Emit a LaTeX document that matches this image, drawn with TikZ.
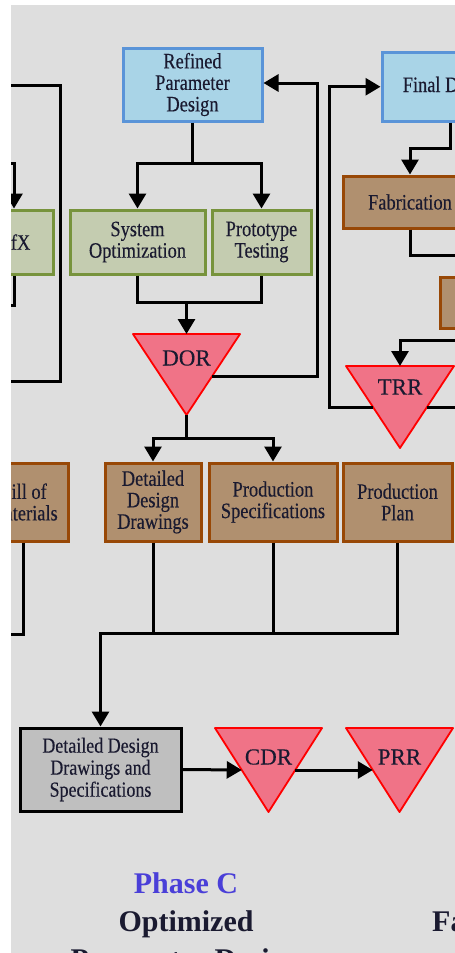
\documentclass[tikz,border=0pt]{standalone}
\usepackage{fontspec}
\setmainfont{Liberation Serif}
% box captions are set in a slightly tall, narrow cut of the serif
\newfontfamily\boxfont[FakeStretch=0.836,FakeBold=0.25]{Liberation Serif}
\newfontfamily\reviewfont[FakeBold=0.25]{Liberation Serif}
\usetikzlibrary{arrows.meta,calc}

\definecolor{bg}{HTML}{DEDEDE}
\definecolor{ink}{HTML}{1A1A30}
\definecolor{blufill}{HTML}{A9D4E7}
\definecolor{bluline}{HTML}{5A94D8}
\definecolor{grnfill}{HTML}{C4CCB0}
\definecolor{grnline}{HTML}{77933C}
\definecolor{brnfill}{HTML}{B0906F}
\definecolor{brnline}{HTML}{984806}
\definecolor{gryfill}{HTML}{BFBFBF}
\definecolor{trifill}{HTML}{F07387}
\definecolor{phaseblue}{HTML}{4A3FD8}

\tikzset{
  box/.style={draw, line width=3pt, inner sep=0pt, align=center, text=ink,
    font=\boxfont\fontsize{22}{21.5}\selectfont},
  blubox/.style={box, fill=blufill, draw=bluline},
  grnbox/.style={box, fill=grnfill, draw=grnline},
  brnbox/.style={box, fill=brnfill, draw=brnline},
  grybox/.style={box, fill=gryfill, draw=black},
  tri/.style={fill=trifill, draw=red, line width=1.8pt, line join=round},
  trilbl/.style={font=\reviewfont\fontsize{23}{26}\selectfont, text=ink, inner sep=0pt},
  wire/.style={line width=3pt, line join=miter, draw=black},
  arr/.style={wire, -{Triangle[width=17pt,length=15pt]}},
  phase/.style={font=\fontsize{30}{36}\selectfont\bfseries, inner sep=0pt},
}

\begin{document}
\begin{tikzpicture}[x=1pt,y=-1pt]
\useasboundingbox (0,0) rectangle (455,953);
\fill[white] (0,0) rectangle (455,953);
\begin{scope}
\clip (11,5) rectangle (455,953);
\fill[bg] (11,5) rectangle (455,953);

% ---- process boxes ----
\node[blubox, minimum width=139pt, minimum height=73pt] (ref) at (192.5,84.5) {Refined\\Parameter\\Design};
\node[blubox, minimum width=136pt, minimum height=68.5pt] (final) at (450,86.75) {Final Design};

\node[grnbox, minimum width=78pt, minimum height=64pt] (dfx) at (14,242) {DfX};
\node[grnbox, minimum width=135pt, minimum height=64pt] (sysopt) at (137.5,242) {System\\Optimization};
\node[grnbox, minimum width=99pt, minimum height=64pt] (proto) at (261.5,242) {Prototype\\Testing};

\node[brnbox, minimum width=134pt, minimum height=52pt] (fab) at (410,202) {Fabrication};
\node[brnbox, minimum width=120pt, minimum height=51pt] (rbox) at (500,302.5) {};

\node[brnbox, minimum width=90pt, minimum height=78pt] (bom) at (23,502) {Bill of\\Materials};
\node[brnbox, minimum width=96pt, minimum height=78pt] (ddd) at (153,502) {Detailed\\Design\\Drawings};
\node[brnbox, minimum width=128pt, minimum height=78pt] (pspec) at (273,502) {Production\\Specifications};
\node[brnbox, minimum width=109pt, minimum height=78pt] (pplan) at (397.5,502) {Production\\Plan};

\node[grybox, minimum width=161pt, minimum height=83pt, font=\boxfont\fontsize{21.5}{22}\selectfont] (dds) at (100.5,769.5) {Detailed Design\\Drawings and\\Specifications};

% ---- review milestones (inverted triangles) ----
\coordinate (dor-nw) at (133,334); \coordinate (dor-ne) at (240,334); \coordinate (dor-s) at (186.5,415);
\coordinate (trr-nw) at (346,366); \coordinate (trr-ne) at (454,366); \coordinate (trr-s) at (400,448);
\coordinate (cdr-nw) at (215,728); \coordinate (cdr-ne) at (322,728); \coordinate (cdr-s) at (268.5,812);
\coordinate (prr-nw) at (346,728); \coordinate (prr-ne) at (453,728); \coordinate (prr-s) at (399.5,812);
\foreach \t in {dor,trr,cdr,prr}
  \path[tri] (\t-nw) -- (\t-ne) -- (\t-s) -- cycle;
\node[trilbl] (dor) at (186.5,358) {DOR};
\node[trilbl] (trr) at (400,387) {TRR};
\node[trilbl] (cdr) at (268.5,757) {CDR};
\node[trilbl] (prr) at (399.5,757) {PRR};

\coordinate (dor-n) at ($(dor-nw)!0.5!(dor-ne)$);
\coordinate (dor-r) at ($(dor-ne)!0.52!(dor-s)$);
\coordinate (trr-n) at ($(trr-nw)!0.5!(trr-ne)$);
\coordinate (trr-l) at ($(trr-nw)!0.5!(trr-s)$);
\coordinate (trr-r) at ($(trr-ne)!0.5!(trr-s)$);
\coordinate (cdr-l) at ($(cdr-nw)!0.5!(cdr-s)$);
\coordinate (cdr-r) at ($(cdr-ne)!0.5!(cdr-s)$);
\coordinate (prr-l) at ($(prr-nw)!0.5!(prr-s)$);

% ---- junctions and bends ----
\coordinate (j0) at (192.5,163);
\coordinate (j1) at (186.5,302);
\coordinate (j2) at (186.5,438);
\coordinate (j3) at (100.5,633);
\coordinate (j4) at (450,148);
\coordinate (lp1) at (317,83);
\coordinate (lp2) at (329,86.75);
\coordinate (lpL) at (60,381);
\coordinate (offL1) at (-40,85);
\coordinate (offL2) at (-40,381);
\coordinate (offL3) at (-40,163);
\coordinate (offL4) at (-40,305);
\coordinate (offL5) at (-40,634);
\coordinate (offR1) at (480,255);
\coordinate (offR2) at (480,340);
\coordinate (offR3) at (480,407);

% ---- connectors ----
\draw[arr] (ref.south) -- (j0) -| (sysopt.north);
\draw[arr] (j0) -| (proto.north);
\draw[wire] (sysopt.south) |- (j1) -| (proto.south);
\draw[arr] (j1) -- (dor-n);
\draw[arr] (dor-r) -| (lp1) -- (ref.east |- lp1);

\draw[arr] (dor-s) -- (j2) -| (ddd.north);
\draw[arr] (j2) -| (pspec.north);

\draw[arr] (pplan.south) |- (j3) -- (dds.north);
\draw[wire] (ddd.south) -- (ddd.south |- j3);
\draw[wire] (pspec.south) -- (pspec.south |- j3);
\draw[wire] (bom.south) |- (offL5);

\draw[arr] (dds.east) -- (cdr-l);
\draw[arr] (cdr-r) -- (prr-l);

\draw[wire] (offL1) -| (lpL) -- (offL2);
\draw[arr] (offL3) -| (dfx.north);
\draw[wire] (dfx.south) |- (offL4);

\draw[arr] (final.south) -- (j4) -| (fab.north);
\draw[wire] (fab.south) |- (offR1);
\draw[arr] (offR2) -| (trr-n);
\draw[wire] (trr-r) -- (offR3);
\draw[arr] (trr-l) -| (lp2) -- (final.west);

% ---- phase captions ----
\node[phase, text=phaseblue, anchor=base] (phc) at (186,893) {Phase C};
\node[phase, text=ink, anchor=base] (phc1) at (186,931) {Optimized};
\node[phase, text=ink, anchor=base] (phc2) at (186,969) {Parameter Design};
\node[phase, text=ink, anchor=base west] (phd1) at (432,931) {Fabrication};
\end{scope}
\end{tikzpicture}
\end{document}
